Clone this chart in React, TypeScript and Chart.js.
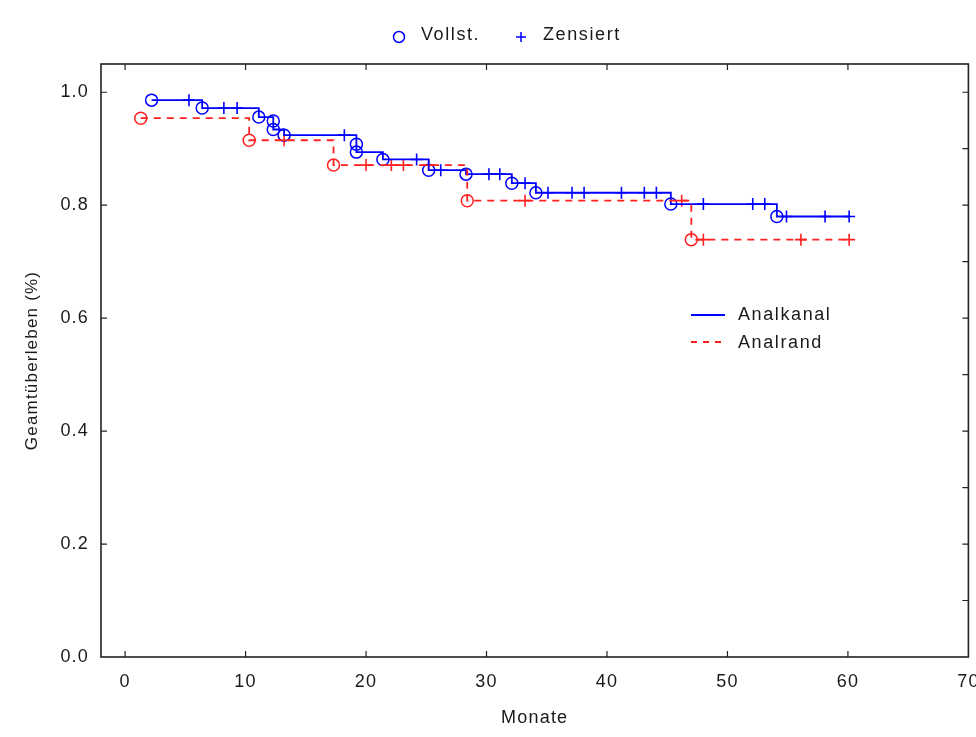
import React, { useEffect, useRef } from "react";
import { Chart, registerables } from "chart.js";

Chart.register(...registerables);

// ---- Data ----
const blueEventMonths = [2.2, 6.4, 11.1, 12.3, 12.3, 13.2, 19.2, 19.2, 21.4, 25.2, 28.3, 32.1, 34.1, 45.3, 54.1];
const blueEventSurvival = [0.986, 0.972, 0.956, 0.949, 0.934, 0.924, 0.908, 0.894, 0.881, 0.862, 0.855, 0.839, 0.822, 0.802, 0.780];
const blueCensorMonths = [5.3, 8.2, 9.3, 18.2, 24.2, 26.2, 30.2, 31.1, 33.2, 35.1, 37.1, 38.1, 41.2, 43.1, 44.1, 48.0, 52.1, 53.1, 54.9, 58.1, 60.1];

const redEventMonths = [1.3, 10.3, 17.3, 28.4, 47.0];
const redEventSurvival = [0.954, 0.915, 0.871, 0.808, 0.739];
const redCensorMonths = [13.2, 20.0, 22.1, 23.1, 25.2, 33.2, 46.2, 48.0, 56.1, 60.1];

const xTickValues = [0, 10, 20, 30, 40, 50, 60, 70];
const yTickValues = [0, 0.2, 0.4, 0.6, 0.8, 1.0];
const yRightTickValues = [0.1, 0.2, 0.3, 0.4, 0.5, 0.6, 0.7, 0.8, 0.9, 1.0];

const seriesNames = ["Analkanal", "Analrand"];
const markerNames = ["Vollst.", "Zensiert"];
const xTitle = "Monate";
const yTitle = "Geamtüberleben (%)";

const BLUE = "#0000ff";
const RED = "#ff2020";
const FONT = "'Liberation Sans', Arial, sans-serif";
const TEXT = "#1a1a1a";

function survivalAt(times: number[], surv: number[], t: number): number {
  let s = surv[0];
  for (let i = 0; i < times.length; i++) {
    if (times[i] <= t) s = surv[i];
  }
  return s;
}

function stepLine(times: number[], surv: number[], censors: number[]) {
  const pts = times.map((t, i) => ({ x: t, y: surv[i] }));
  const last = Math.max(...censors);
  pts.push({ x: last, y: surv[surv.length - 1] });
  return pts;
}

const framePlugin = {
  id: "frameAndLegends",
  beforeDraw(chart: any) {
    try {
      (chart.ctx as any).letterSpacing = "1.2px";
    } catch (e) {}
  },
  beforeDatasetsDraw(chart: any) {
    const { ctx, chartArea, scales } = chart;
    const { left, right, top, bottom } = chartArea;
    ctx.save();
    ctx.strokeStyle = "#222";
    ctx.lineWidth = 1.6;
    ctx.strokeRect(left, top, right - left, bottom - top);
    ctx.lineWidth = 1.2;
    ctx.beginPath();
    const tl = 6;
    xTickValues.forEach((v) => {
      const x = scales.x.getPixelForValue(v);
      if (x > left + 1 && x < right - 1) {
        ctx.moveTo(x, bottom);
        ctx.lineTo(x, bottom - tl);
        ctx.moveTo(x, top);
        ctx.lineTo(x, top + tl);
      }
    });
    yTickValues.forEach((v) => {
      const y = scales.y.getPixelForValue(v);
      if (y > top + 1 && y < bottom - 1) {
        ctx.moveTo(left, y);
        ctx.lineTo(left + tl, y);
      }
    });
    yRightTickValues.forEach((v) => {
      const y = scales.y.getPixelForValue(v);
      if (y > top + 1 && y < bottom - 1) {
        ctx.moveTo(right, y);
        ctx.lineTo(right - tl, y);
      }
    });
    ctx.stroke();
    ctx.restore();
  },
  afterDraw(chart: any) {
    const { ctx } = chart;
    ctx.save();
    try {
      (ctx as any).letterSpacing = "1.6px";
    } catch (e) {}
    ctx.font = `18px ${FONT}`;
    ctx.textBaseline = "middle";
    ctx.textAlign = "left";
    // top legend: marker types
    ctx.strokeStyle = BLUE;
    ctx.lineWidth = 1.5;
    ctx.beginPath();
    ctx.arc(399, 37, 5.5, 0, Math.PI * 2);
    ctx.stroke();
    ctx.beginPath();
    ctx.moveTo(516, 37);
    ctx.lineTo(526, 37);
    ctx.moveTo(521, 32);
    ctx.lineTo(521, 42);
    ctx.stroke();
    ctx.fillStyle = TEXT;
    ctx.fillText(markerNames[0], 421, 35);
    ctx.fillText(markerNames[1], 543, 35);
    // inner legend: series
    ctx.strokeStyle = BLUE;
    ctx.lineWidth = 1.8;
    ctx.beginPath();
    ctx.moveTo(691, 315);
    ctx.lineTo(725, 315);
    ctx.stroke();
    ctx.strokeStyle = RED;
    ctx.setLineDash([6, 6]);
    ctx.beginPath();
    ctx.moveTo(691, 342);
    ctx.lineTo(727, 342);
    ctx.stroke();
    ctx.setLineDash([]);
    ctx.fillStyle = TEXT;
    ctx.fillText(seriesNames[0], 738, 315);
    ctx.fillText(seriesNames[1], 738, 343);
    ctx.restore();
  },
};

export default function App() {
  const canvasRef = useRef<HTMLCanvasElement | null>(null);

  useEffect(() => {
    const canvas = canvasRef.current;
    if (!canvas) return;

    const blueCensorPts = blueCensorMonths.map((t) => ({ x: t, y: survivalAt(blueEventMonths, blueEventSurvival, t) }));
    const redCensorPts = redCensorMonths.map((t) => ({ x: t, y: survivalAt(redEventMonths, redEventSurvival, t) }));
    const blueEventPts = blueEventMonths.map((t, i) => ({ x: t, y: blueEventSurvival[i] }));
    const redEventPts = redEventMonths.map((t, i) => ({ x: t, y: redEventSurvival[i] }));

    const chart = new Chart(canvas, {
      type: "scatter",
      data: {
        datasets: [
          {
            label: seriesNames[1],
            data: stepLine(redEventMonths, redEventSurvival, redCensorMonths),
            showLine: true,
            stepped: true,
            borderColor: RED,
            borderWidth: 1.8,
            borderDash: [7, 6],
            pointRadius: 0,
            fill: false,
          } as any,
          {
            label: seriesNames[0],
            data: stepLine(blueEventMonths, blueEventSurvival, blueCensorMonths),
            showLine: true,
            stepped: true,
            borderColor: BLUE,
            borderWidth: 1.8,
            pointRadius: 0,
            fill: false,
          } as any,
          {
            label: markerNames[0] + " " + seriesNames[1],
            data: redEventPts,
            pointStyle: "circle",
            pointRadius: 6,
            pointBorderWidth: 1.5,
            pointBorderColor: RED,
            pointBackgroundColor: "rgba(0,0,0,0)",
            showLine: false,
          },
          {
            label: markerNames[1] + " " + seriesNames[1],
            data: redCensorPts,
            pointStyle: "cross",
            pointRadius: 6,
            pointBorderWidth: 1.6,
            pointBorderColor: RED,
            showLine: false,
          },
          {
            label: markerNames[0] + " " + seriesNames[0],
            data: blueEventPts,
            pointStyle: "circle",
            pointRadius: 6,
            pointBorderWidth: 1.5,
            pointBorderColor: BLUE,
            pointBackgroundColor: "rgba(0,0,0,0)",
            showLine: false,
          },
          {
            label: markerNames[1] + " " + seriesNames[0],
            data: blueCensorPts,
            pointStyle: "cross",
            pointRadius: 6,
            pointBorderWidth: 1.6,
            pointBorderColor: BLUE,
            showLine: false,
          },
        ],
      },
      options: {
        responsive: false,
        animation: false,
        layout: { padding: { top: 64, right: 7, left: 0, bottom: 0 } },
        plugins: {
          legend: { display: false },
          tooltip: { enabled: false },
        },
        scales: {
          x: {
            type: "linear",
            min: -2,
            max: 70,
            afterBuildTicks: (s: any) => {
              s.ticks = xTickValues.map((v) => ({ value: v }));
            },
            afterFit: (s: any) => {
              s.height = 80;
              s.paddingLeft = 0;
              s.paddingRight = 0;
            },
            grid: { display: false, drawTicks: false },
            border: { display: false },
            ticks: {
              autoSkip: false,
              maxRotation: 0,
              padding: 14,
              color: TEXT,
              font: { family: FONT, size: 18 },
              callback: (v: any) => String(v),
            },
            title: {
              display: true,
              text: xTitle,
              color: TEXT,
              font: { family: FONT, size: 18 },
              padding: { top: 0, bottom: 8 },
            },
          },
          y: {
            type: "linear",
            min: 0,
            max: 1.05,
            afterBuildTicks: (s: any) => {
              s.ticks = yTickValues.map((v) => ({ value: v }));
            },
            afterFit: (s: any) => {
              s.width = 101;
              s.paddingTop = 0;
              s.paddingBottom = 0;
            },
            grid: { display: false, drawTicks: false },
            border: { display: false },
            ticks: {
              autoSkip: false,
              padding: 12,
              color: TEXT,
              font: { family: FONT, size: 18 },
              callback: (v: any) => Number(v).toFixed(1),
            },
            title: {
              display: true,
              text: yTitle,
              color: TEXT,
              font: { family: FONT, size: 17 },
              padding: { top: 22, bottom: 0 },
            },
          },
        },
      },
      plugins: [framePlugin],
    });

    return () => chart.destroy();
  }, []);

  return (
    <div style={{ position: "absolute", left: 0, top: 0, width: 976, height: 737, background: "#fff" }}>
      <canvas ref={canvasRef} width={976} height={737} style={{ display: "block" }} />
    </div>
  );
}
